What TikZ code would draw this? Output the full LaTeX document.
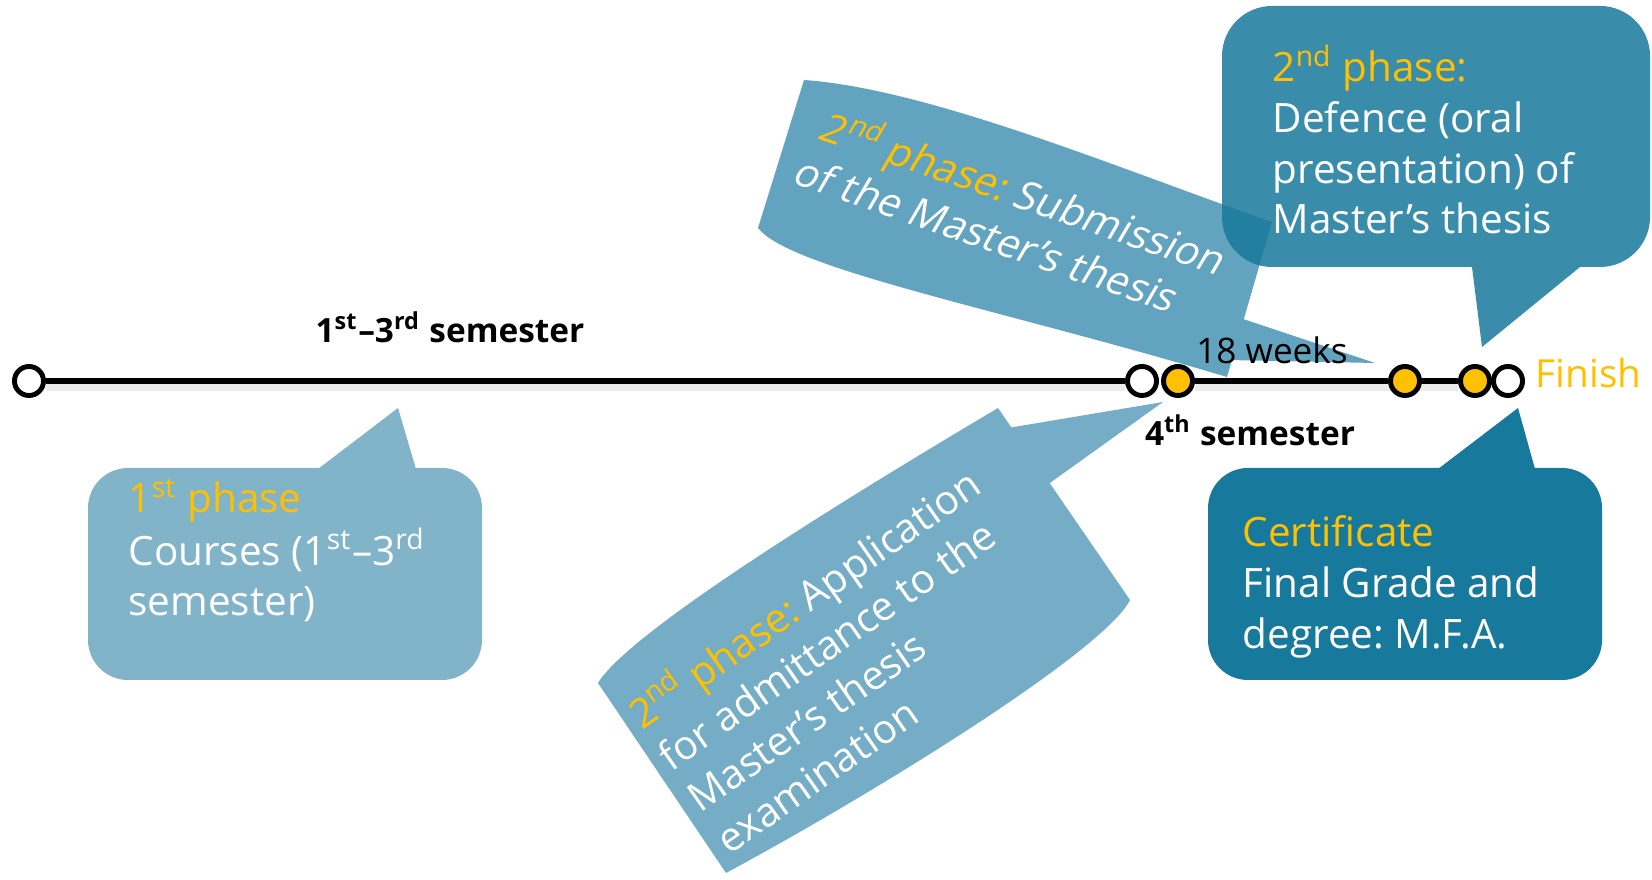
\documentclass[tikz,border=0pt]{standalone}
\usepackage{fontspec}
\setmainfont{Open Sans}
\usepackage{xcolor}
\usepackage{tikz}
\definecolor{gold}{HTML}{FFC000}
\definecolor{phaseblue}{HTML}{82B4C9}
\definecolor{admitblue}{HTML}{74ADC5}
\definecolor{submitblue}{HTML}{62A3BF}
\definecolor{deepblue}{HTML}{17799B}
\pgfdeclarelayer{callouts}
\pgfdeclarelayer{track}
\pgfsetlayers{callouts,track,main}
\tikzset{
    % callout shapes
    bubble/.style={rounded corners=0.4cm},
    phaseone/.style={fill=phaseblue},
    admit/.style={fill=admitblue},
    submit/.style={fill=submitblue},
    defence/.style={fill=deepblue, fill opacity=0.85},
    certif/.style={fill=deepblue},
    % callout texts
    calltext/.style={inner sep=0pt, text=white, font=\fontsize{11.5}{14.4}\selectfont},
    % timeline
    milestone/.style={circle, draw, line width=1.4pt, minimum size=0.29cm, inner sep=0pt},
    openmile/.style={milestone, fill=white},
    goldmile/.style={milestone, fill=gold},
    timeline/.style={line width=1.5pt},
    lineshadow/.style={line width=2.5pt, black!8},
    semlabel/.style={inner sep=0pt, font=\fontsize{9.5}{11}\selectfont\bfseries},
    weeklabel/.style={inner sep=0pt, font=\fontsize{10}{12}\selectfont},
    finishlabel/.style={inner sep=0pt, text=gold, font=\fontsize{11}{13}\selectfont}
}
\newcommand{\hl}[1]{{\color{gold}#1}}
\frenchspacing

\begin{document}
\begin{tikzpicture}[x=0.01cm, y=0.01cm]
    \useasboundingbox (0,0) rectangle (1652,879);

    \begin{pgfonlayer}{callouts}
    % 2nd phase: application (wavy banner)
    \fill[admit] (598,196) .. controls (630,249) and (860,389) .. (998,471)
        -- (1130,279) .. controls (1105,229) and (880,89) .. (726,6) -- cycle;
    \fill[admit] (1008,451) -- (1163,477) -- (1047,394) -- cycle;

    % 2nd phase: submission (wavy banner)
    \fill[submit] (804,799) .. controls (930,790) and (1120,710) .. (1272,657)
        -- (1227,502) .. controls (1000,570) and (790,610) .. (758,651) -- cycle;
    \fill[submit] (1240,561) -- (1375,516) -- (1228,519) -- cycle;

    % 2nd phase: defence
    \fill[defence, rounded corners=0.5cm] (1222,612) rectangle (1650,873);
    \fill[defence] (1472,612) -- (1482,532) -- (1580,612) -- cycle;

    % 1st phase
    \fill[phaseone, bubble] (88,199) rectangle (482,411);
    \fill[phaseone] (318,410) -- (398,471) -- (416,410) -- cycle;

    % Certificate
    \fill[certif, bubble] (1208,199) rectangle (1602,411);
    \fill[certif] (1438,410) -- (1518,471) -- (1535,410) -- cycle;
    \end{pgfonlayer}

    % callout texts
    \node[calltext, rotate=35, anchor=base west] (admittext) at (642,148) {%
        \begin{tabular}[t]{@{}l@{}}
        \hl{2\textsuperscript{nd} phase:} Application\\
        for admittance to the\\
        Master's thesis\\
        examination
        \end{tabular}};
    \node[calltext, rotate=-19, xslant=0.2, anchor=base west] (subtext) at (816,741) {%
        \begin{tabular}[t]{@{}l@{}}
        \hl{2\textsuperscript{nd} phase:} Submission\\
        of the Master's thesis
        \end{tabular}};
    \node[calltext, anchor=base west] (deftext) at (1272,797) {%
        \begin{tabular}[t]{@{}l@{}}
        \hl{2\textsuperscript{nd} phase:}\\
        Defence (oral\\
        presentation) of\\
        Master's thesis
        \end{tabular}};
    \node[calltext, anchor=base west] (onetext) at (128,366) {%
        \begin{tabular}[t]{@{}l@{}}
        \hl{1\textsuperscript{st} phase}\\
        Courses (1\textsuperscript{st}--3\textsuperscript{rd}\\
        semester)
        \end{tabular}};
    \node[calltext, anchor=base west] (certtext) at (1242,332) {%
        \begin{tabular}[t]{@{}l@{}}
        \hl{Certificate}\\
        Final Grade and\\
        degree: M.F.A.
        \end{tabular}};

    % timeline
    \node[openmile] (t0) at (29,498) {};
    \node[openmile] (t1) at (1142,498) {};
    \node[goldmile] (t2) at (1178,498) {};
    \node[goldmile] (t3) at (1405,498) {};
    \node[goldmile] (t4) at (1475,498) {};
    \node[openmile] (t5) at (1508,498) {};
    \begin{pgfonlayer}{track}
    \draw[lineshadow] ([yshift=-0.06cm]t0.east) -- ([yshift=-0.06cm]t1.west);
    \draw[lineshadow] ([yshift=-0.06cm]t2.east) -- ([yshift=-0.06cm]t4.west);
    \draw[timeline] (t0) -- (t1);
    \draw[timeline] (t2) -- (t3);
    \draw[timeline] (t3) -- (t4);
    \end{pgfonlayer}

    % labels
    \node[semlabel, anchor=base] (semabc) at (450,536) {1\textsuperscript{st}--3\textsuperscript{rd} semester};
    \node[weeklabel, anchor=base] (weeks) at (1272,515) {18 weeks};
    \node[semlabel, anchor=base] (semd) at (1250,433) {4\textsuperscript{th} semester};
    \node[finishlabel, anchor=base west] (finish) at (1535,491) {Finish};
\end{tikzpicture}
\end{document}
